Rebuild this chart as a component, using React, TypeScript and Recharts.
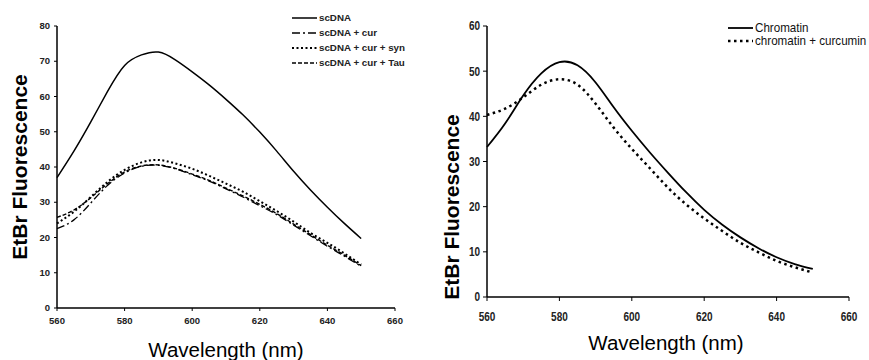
// Two EtBr fluorescence emission spectra side by side:
// left = supercoiled DNA with curcumin / synuclein / Tau, right = chromatin ± curcumin.

import { LineChart, Line, XAxis, YAxis } from "recharts";

// Wavelength grid (nm), shared by every series
const wavelengths = [560, 565, 570, 575, 580, 585, 590, 595, 600, 605, 610, 615, 620, 625, 630, 635, 640, 645, 650];

// Left panel
const scDna = [37, 44.5, 52.8, 61.5, 68.8, 71.8, 72.6, 70.4, 67, 63.3, 59.2, 54.8, 49.9, 44.5, 38.8, 33.5, 28.6, 24, 19.7];
const scDnaCur = [22.5, 25, 29.8, 34.8, 38.3, 40.2, 40.5, 39.5, 37.8, 36, 33.8, 31.5, 29, 26.5, 23.5, 20.5, 17.5, 14.7, 11.8];
const scDnaCurSyn = [24, 27.3, 31.5, 35.8, 39.2, 41.3, 42, 41, 39.5, 37.5, 35.3, 33, 30.3, 27.5, 24.5, 21.3, 18.5, 15.5, 12.3];
const scDnaCurTau = [25.7, 27.8, 31.3, 35.3, 38.6, 40.3, 40.6, 39.6, 38, 36.2, 34, 31.8, 29.4, 26.8, 23.8, 20.8, 17.8, 15, 12];

// Right panel
const chromatin = [33.2, 38.4, 44.6, 49.5, 52, 51.3, 47.5, 42, 36.8, 32, 27.5, 23.2, 19.3, 16, 13.2, 10.8, 8.8, 7.3, 6.2];
const chromatinCurcumin = [40.3, 41.7, 44.2, 47, 48.2, 47, 42.8, 37.5, 32.8, 28.5, 24.2, 20.5, 17.4, 14.6, 12, 9.9, 8, 6.6, 5.4];

// Axis ticks
const xTicks = [560, 580, 600, 620, 640, 660];
const leftYTicks = [0, 10, 20, 30, 40, 50, 60, 70, 80];
const rightYTicks = [0, 10, 20, 30, 40, 50, 60];

const leftData = wavelengths.map((wl, i) => ({
  wl,
  scDna: scDna[i],
  cur: scDnaCur[i],
  syn: scDnaCurSyn[i],
  tau: scDnaCurTau[i],
}));

const rightData = wavelengths.map((wl, i) => ({
  wl,
  chromatin: chromatin[i],
  curcumin: chromatinCurcumin[i],
}));

const ARIAL = "'Liberation Sans', Arial, sans-serif";

type LineStyle = { label: string; dash?: string; width: number };

// line styles per series, reused by the legends
const leftStyles: Record<string, LineStyle> = {
  scDna: { label: "scDNA", width: 1.5 },
  cur: { label: "scDNA + cur", dash: "8 3 2 3", width: 1.3 },
  syn: { label: "scDNA + cur + syn", dash: "2 2.5", width: 2 },
  tau: { label: "scDNA + cur + Tau", dash: "4 2", width: 1.4 },
};

const rightStyles: Record<string, LineStyle> = {
  chromatin: { label: "Chromatin", width: 1.8 },
  curcumin: { label: "chromatin + curcumin", dash: "2.5 3.5", width: 2.5 },
};

// Tick text squeezed / stretched horizontally, like the scanned figure
function makeTick(fontSize: number, sx: number, vertical: boolean) {
  return (props: any) => {
    const { x, y, payload } = props;
    return (
      <g transform={`translate(${x},${y})`}>
        <text
          transform={`scale(${sx},1)`}
          textAnchor={vertical ? "end" : "middle"}
          dy={vertical ? "0.355em" : "0.71em"}
          fontSize={fontSize}
          fontWeight={700}
          fontFamily={ARIAL}
          fill="#222"
        >
          {payload.value}
        </text>
      </g>
    );
  };
}

function LegendBox({
  styles,
  left,
  top,
  rowHeight,
  font,
}: {
  styles: Record<string, LineStyle>;
  left: number;
  top: number;
  rowHeight: number;
  font: React.CSSProperties;
}) {
  return (
    <div style={{ position: "absolute", left, top }}>
      {Object.keys(styles).map((k) => {
        const s = styles[k];
        return (
          <div key={k} style={{ display: "flex", alignItems: "center", height: rowHeight }}>
            <svg width={25} height={6} style={{ marginRight: 2, flex: "none" }}>
              <line x1={0} y1={3} x2={25} y2={3} stroke="#000" strokeWidth={s.width} strokeDasharray={s.dash} />
            </svg>
            <span
              style={{
                whiteSpace: "nowrap",
                display: "inline-block",
                lineHeight: `${rowHeight - 1}px`,
                transformOrigin: "left center",
                ...font,
              }}
            >
              {s.label}
            </span>
          </div>
        );
      })}
    </div>
  );
}

const axisLine = { stroke: "#000", strokeWidth: 1.5 };

export default function App() {
  return (
    <div style={{ position: "absolute", left: 0, top: 0, width: 869, height: 360, background: "#fff", overflow: "hidden" }}>
      {/* Left panel */}
      <div style={{ position: "absolute", left: 0, top: 0 }}>
        <LineChart width={440} height={360} data={leftData} margin={{ top: 26, right: 45, left: 27, bottom: 22 }}>
          <XAxis
            dataKey="wl"
            type="number"
            domain={[560, 660]}
            ticks={xTicks}
            interval={0}
            height={30}
            axisLine={axisLine}
            tickLine={{ stroke: "#000" }}
            tickSize={3}
            tickMargin={7}
            tick={makeTick(8.5, 1.12, false)}
          />
          <YAxis
            type="number"
            domain={[0, 80]}
            ticks={leftYTicks}
            interval={0}
            width={30}
            axisLine={axisLine}
            tickLine={{ stroke: "#000" }}
            tickSize={3}
            tickMargin={4}
            tick={makeTick(8.5, 1.12, true)}
          />
          {Object.keys(leftStyles).map((k) => (
            <Line
              key={k}
              dataKey={k}
              type="natural"
              stroke="#000"
              strokeWidth={leftStyles[k].width}
              strokeDasharray={leftStyles[k].dash}
              dot={false}
              isAnimationActive={false}
            />
          ))}
        </LineChart>
      </div>

      {/* Right panel */}
      <div style={{ position: "absolute", left: 430, top: 0 }}>
        <LineChart width={439} height={360} data={rightData} margin={{ top: 26, right: 20, left: 27, bottom: 33 }}>
          <XAxis
            dataKey="wl"
            type="number"
            domain={[560, 660]}
            ticks={xTicks}
            interval={0}
            height={30}
            axisLine={axisLine}
            tickLine={{ stroke: "#000" }}
            tickSize={4}
            tickMargin={11}
            tick={makeTick(12.5, 0.8, false)}
          />
          <YAxis
            type="number"
            domain={[0, 60]}
            ticks={rightYTicks}
            interval={0}
            width={30}
            axisLine={axisLine}
            tickLine={{ stroke: "#000" }}
            tickSize={4}
            tickMargin={3}
            tick={makeTick(12.5, 0.8, true)}
          />
          {Object.keys(rightStyles).map((k) => (
            <Line
              key={k}
              dataKey={k}
              type="natural"
              stroke="#000"
              strokeWidth={rightStyles[k].width}
              strokeDasharray={rightStyles[k].dash}
              dot={false}
              isAnimationActive={false}
            />
          ))}
        </LineChart>
      </div>

      {/* Legends */}
      <LegendBox
        styles={leftStyles}
        left={292}
        top={10}
        rowHeight={15}
        font={{ fontSize: 8.5, fontWeight: 700, color: "#222", fontFamily: ARIAL, transform: "scaleX(1.15)" }}
      />
      <LegendBox
        styles={rightStyles}
        left={728}
        top={21}
        rowHeight={13.5}
        font={{ fontSize: 13.5, color: "#111", fontFamily: ARIAL, transform: "scaleX(0.86)" }}
      />

      {/* Axis titles */}
      <div style={{ ...titleStyle, left: 226, top: 350, fontSize: 20.5 }}>Wavelength (nm)</div>
      <div style={{ ...titleStyle, left: 666, top: 343, fontSize: 20.5 }}>Wavelength (nm)</div>
      <div
        style={{
          ...titleStyle,
          left: 19,
          top: 167,
          fontSize: 21,
          fontWeight: 700,
          transform: "translate(-50%, -50%) rotate(-90deg)",
        }}
      >
        EtBr Fluorescence
      </div>
      <div
        style={{
          ...titleStyle,
          left: 451,
          top: 207,
          fontSize: 21,
          fontWeight: 700,
          transform: "translate(-50%, -50%) rotate(-90deg)",
        }}
      >
        EtBr Fluorescence
      </div>
    </div>
  );
}

const titleStyle: React.CSSProperties = {
  position: "absolute",
  transform: "translate(-50%, -50%)",
  whiteSpace: "nowrap",
  fontFamily: ARIAL,
  color: "#000",
  lineHeight: 1,
};
